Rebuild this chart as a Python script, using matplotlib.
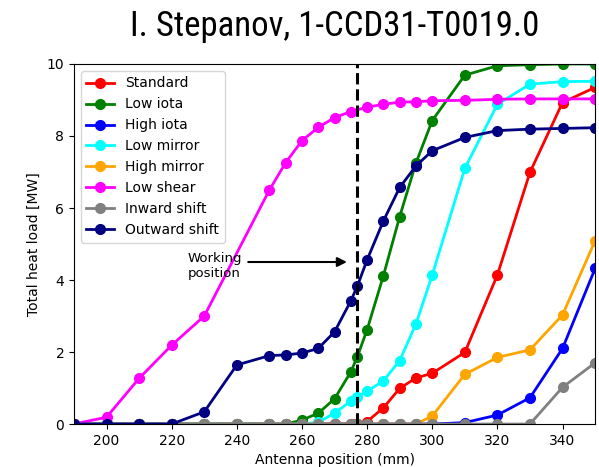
import numpy as np
import matplotlib
matplotlib.use("Agg")
import matplotlib.pyplot as plt
from matplotlib import font_manager

# antenna positions (mm) shared by most scenarios
pos = [190, 200, 210, 220, 230, 240, 250, 255, 260, 265, 270, 275, 277,
       280, 285, 290, 295, 300, 310, 320, 330, 340, 350]

standard = [0] * 13 + [0.07, 0.45, 0.99, 1.28, 1.41, 1.99, 4.14, 6.99, 8.93, 9.35]
low_iota = [0] * 8 + [0.11, 0.30, 0.70, 1.45, 1.87, 2.62, 4.12, 5.76, 7.25,
                      8.43, 9.69, 9.95, 9.98, 10.0, 10.0]
high_iota = [0] * 18 + [0.04, 0.25, 0.73, 2.10, 4.32]
low_mirror = [0] * 9 + [0.05, 0.30, 0.64, 0.76, 0.91, 1.20, 1.76, 2.78, 4.14,
                        7.10, 8.88, 9.44, 9.51, 9.52]
high_mirror = [0] * 17 + [0.22, 1.38, 1.85, 2.06, 3.03, 5.09]
inward_shift = [0] * 21 + [1.02, 1.70]
outward_shift = [0, 0, 0, 0, 0.34, 1.64, 1.90, 1.92, 1.97, 2.10, 2.56, 3.42, 3.83,
                 4.56, 5.64, 6.57, 7.17, 7.59, 7.96, 8.15, 8.19, 8.21, 8.23]

# low shear was scanned on a slightly different grid
pos_shear = [190, 200, 210, 220, 230, 250, 255, 260, 265, 270, 275, 280, 285,
             290, 295, 300, 310, 320, 330, 340, 350]
low_shear = [0, 0.19, 1.27, 2.19, 3.00, 6.50, 7.26, 7.87, 8.24, 8.51, 8.68, 8.80,
             8.88, 8.94, 8.95, 8.98, 8.99, 9.02, 9.03, 9.03, 9.03]

working_pos = 277

series = [
    ("Standard", pos, standard, "red"),
    ("Low iota", pos, low_iota, "green"),
    ("High iota", pos, high_iota, "blue"),
    ("Low mirror", pos, low_mirror, "cyan"),
    ("High mirror", pos, high_mirror, "orange"),
    ("Low shear", pos_shear, low_shear, "magenta"),
    ("Inward shift", pos, inward_shift, "gray"),
    ("Outward shift", pos, outward_shift, "navy"),
]

# pick a narrow face for the title if one is around
names = {f.name for f in font_manager.fontManager.ttflist}
title_font = dict(family="DejaVu Sans", stretch="condensed", size=22)
for cand in ["Liberation Sans Narrow", "Arial Narrow", "Roboto Condensed",
             "Open Sans Condensed", "DejaVu Sans Condensed"]:
    if cand in names:
        title_font = dict(family=cand, size=25)
        break

fig = plt.figure(figsize=(5.99, 4.67), dpi=100)
ax = fig.add_axes([0.1235, 0.092, 0.870, 0.771])

for label, x, y, c in series:
    ax.plot(x, y, "-o", color=c, lw=2, ms=7, label=label)

ax.axvline(working_pos, color="black", ls="--", lw=2.2)

ax.text(225, 4.4, "Working\nposition", fontsize=9.5, va="center", ha="left")
ax.annotate("", xy=(273.8, 4.5), xytext=(243.5, 4.5),
            arrowprops=dict(arrowstyle="-|>", color="black", lw=1.5,
                            mutation_scale=14, shrinkA=0, shrinkB=0))

ax.set_xlim(190, 350)
ax.set_ylim(0, 10)
ax.set_xticks(np.arange(200, 341, 20))
ax.set_yticks(np.arange(0, 11, 2))
ax.set_xlabel("Antenna position (mm)")
ax.set_ylabel("Total heat load [MW]")
ax.legend(loc="upper left")

ax.set_title("I. Stepanov, 1-CCD31-T0019.0", pad=20, **title_font)

fig.savefig("out.png", dpi=100)
